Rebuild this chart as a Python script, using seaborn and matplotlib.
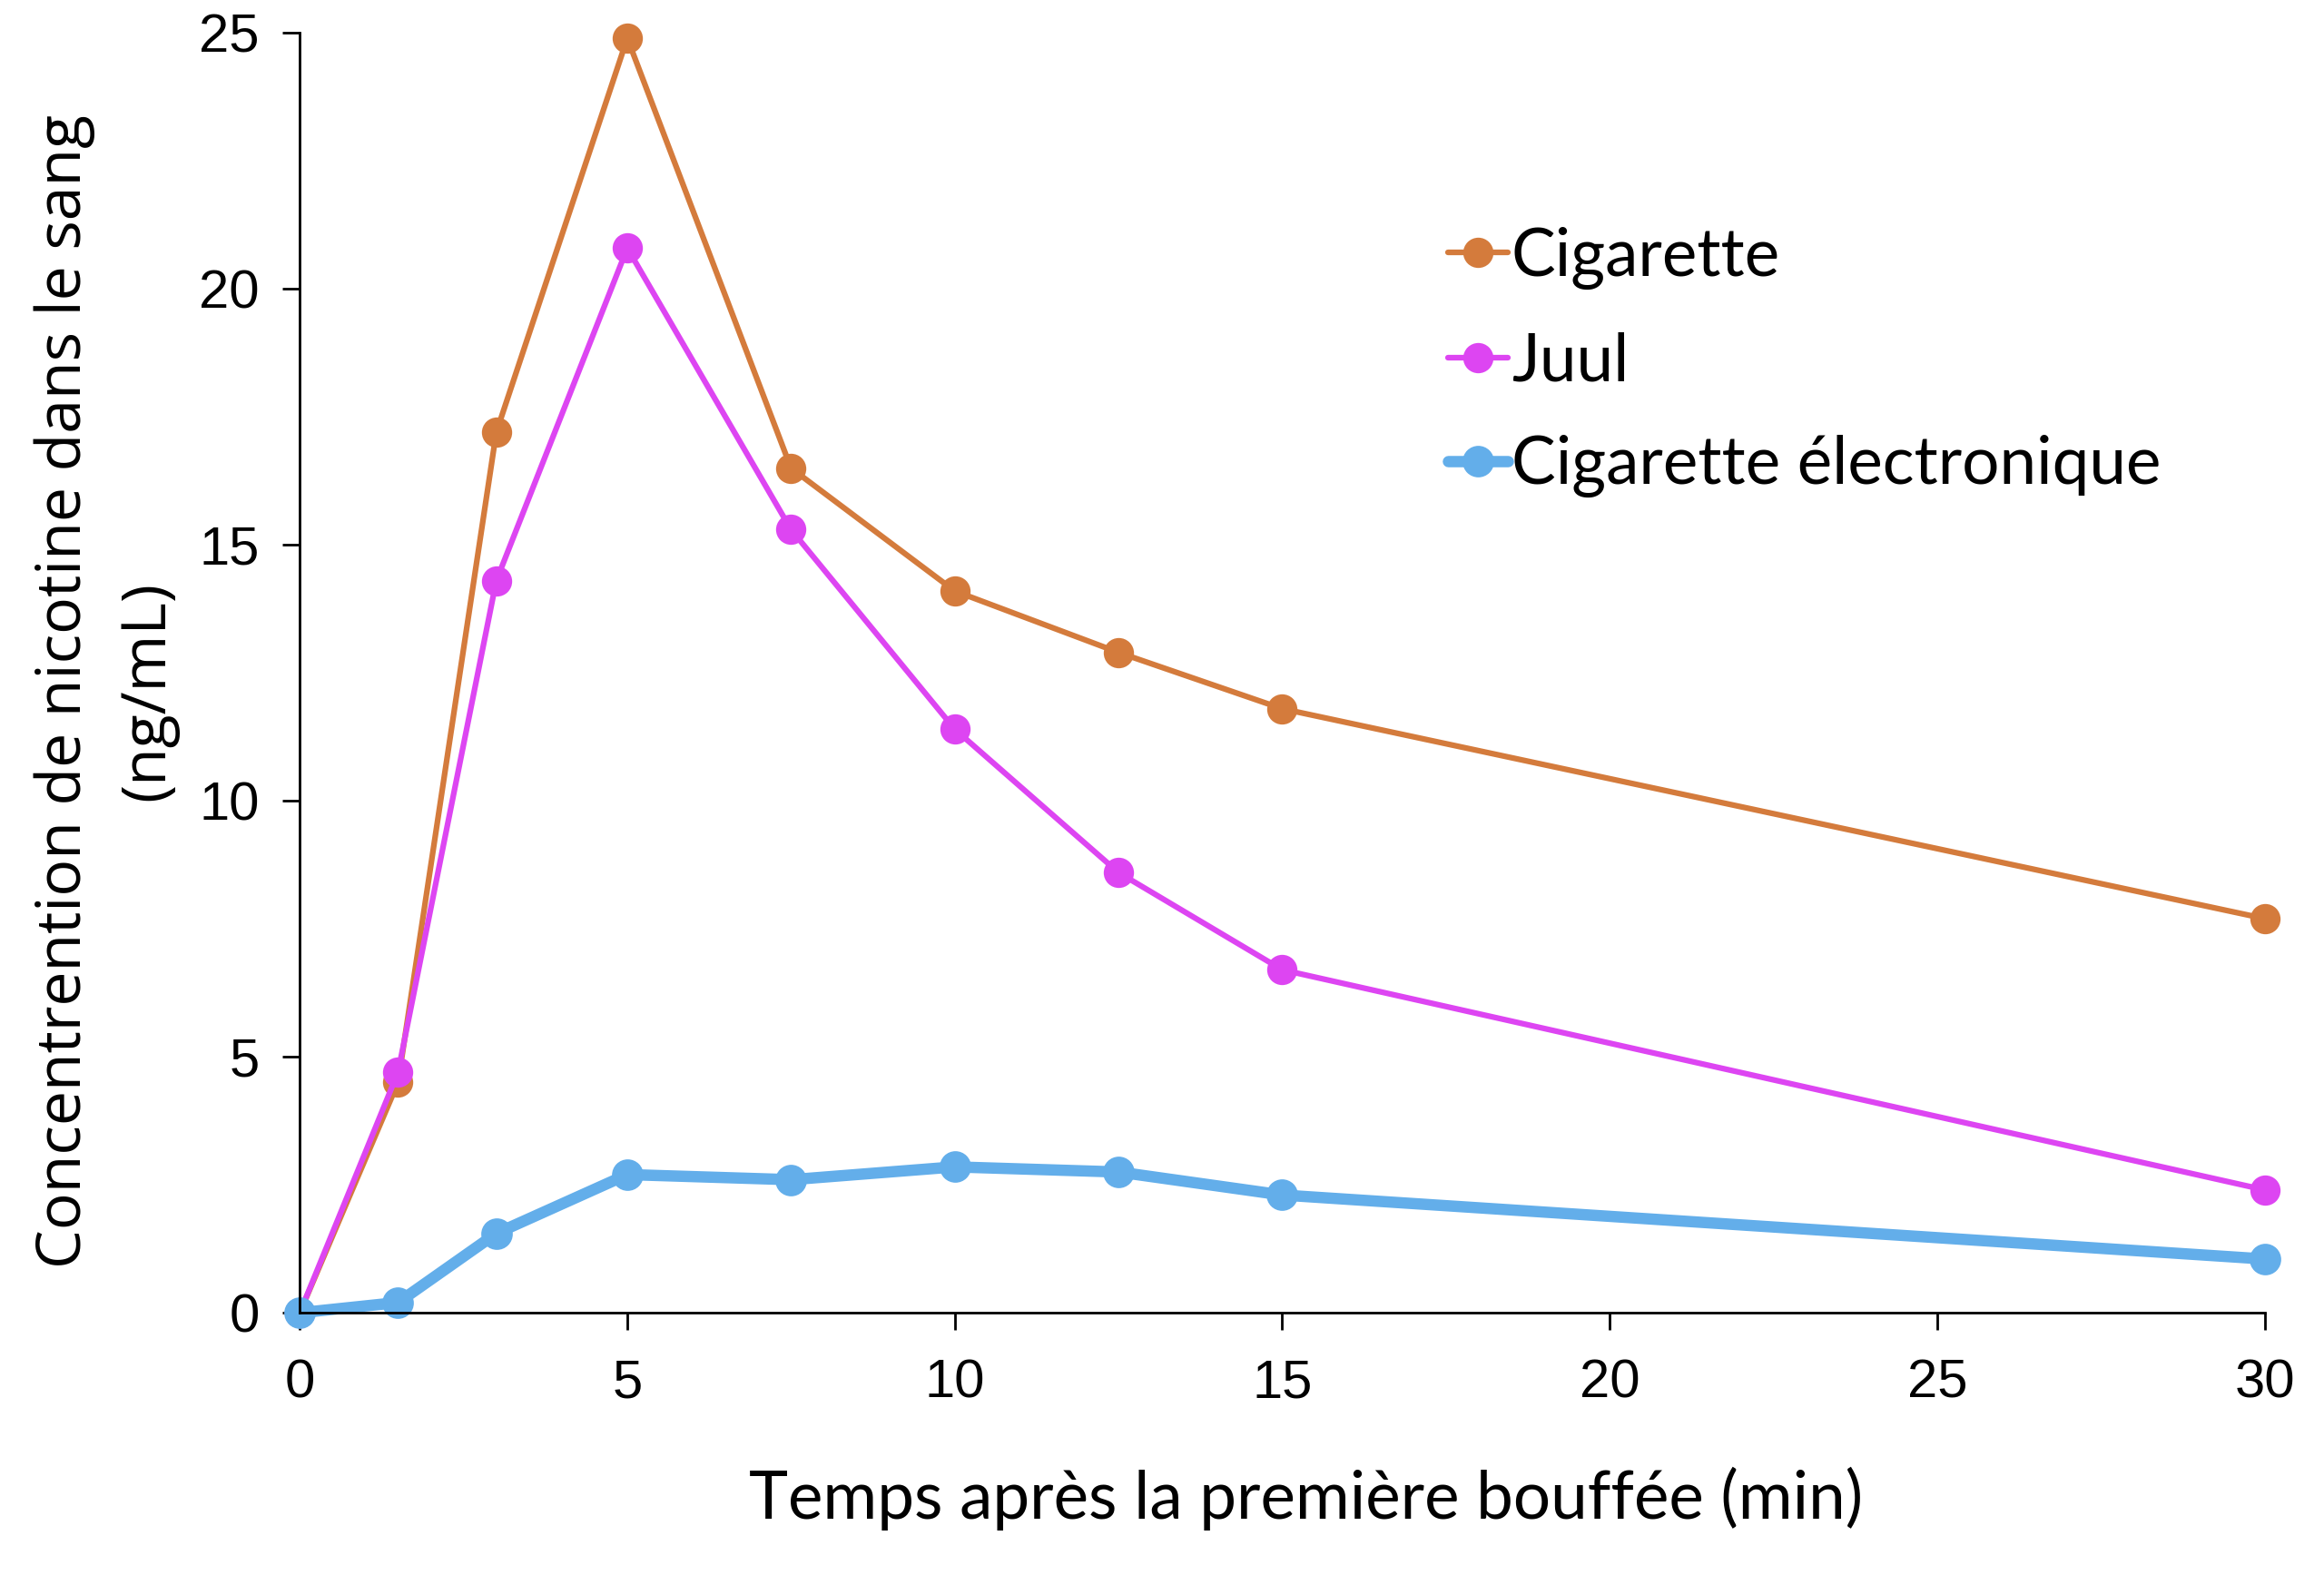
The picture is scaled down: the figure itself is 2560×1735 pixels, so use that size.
import numpy as np
import pandas as pd
import matplotlib
matplotlib.use("Agg")
import matplotlib.pyplot as plt
import seaborn as sns

# time points (min) and nicotine concentration (ng/mL)
temps = [0, 1.5, 3, 5, 7.5, 10, 12.5, 15, 30]
cigarette = [0, 4.5, 17.2, 24.9, 16.5, 14.1, 12.9, 11.8, 7.7]
juul = [0, 4.7, 14.3, 20.8, 15.3, 11.4, 8.6, 6.7, 2.4]
ecig = [0, 0.2, 1.55, 2.7, 2.6, 2.85, 2.75, 2.3, 1.05]

series_names = ["Cigarette", "Juul", "Cigarette électronique"]
series_values = [cigarette, juul, ecig]
colors = ["#D47B3C", "#DD45F2", "#63AEEA"]
widths = [4.5, 4.5, 9]
msizes = [24, 24, 25]

x_ticks = [0, 5, 10, 15, 20, 25, 30]
y_ticks = [0, 5, 10, 15, 20, 25]

df = pd.DataFrame({
    "temps": temps * 3,
    "conc": cigarette + juul + ecig,
    "serie": sum([[n] * len(temps) for n in series_names], []),
})

sns.set_style("white")
plt.rcParams["font.family"] = ["Liberation Sans", "DejaVu Sans"]

fig = plt.figure(figsize=(25.6, 17.35), dpi=100)
ax = fig.add_axes([0.129, 0.1665, 0.8455, 0.8125])

for name, col, lw, ms in zip(series_names, colors, widths, msizes):
    sub = df[df["serie"] == name]
    sns.lineplot(data=sub, x="temps", y="conc", ax=ax, color=col, linewidth=lw,
                 marker="o", markersize=ms, markeredgewidth=0, label=name, clip_on=False)

ax.set_xlim(0, 30)
ax.set_ylim(0, 25)
ax.set_xticks(x_ticks)
ax.set_yticks(y_ticks)
ax.tick_params(axis="both", direction="out", length=14, width=2, labelsize=43,
               colors="black", left=True, bottom=True)
ax.tick_params(axis="x", pad=22)
ax.tick_params(axis="y", pad=18)
for s in ["top", "right"]:
    ax.spines[s].set_visible(False)
for s in ["left", "bottom"]:
    ax.spines[s].set_linewidth(2)
    ax.spines[s].set_color("black")

ax.set_xlabel("Temps après la première bouffée (min)", family=["Lato", "DejaVu Sans"],
              fontsize=52.5, color="black")
ax.xaxis.set_label_coords(0.512, -0.120)
ax.set_ylabel("Concentrention de nicotine dans le sang\n(ng/mL)", family=["Open Sans", "DejaVu Sans"],
              fontsize=49, linespacing=1.45, color="black")
ax.yaxis.set_label_coords(-0.062, 0.486)

leg = ax.legend(loc="upper left", bbox_to_anchor=(0.609, 0.877), bbox_transform=fig.transFigure,
                frameon=False, prop={"family": ["Lato", "DejaVu Sans"], "size": 52.5},
                handlelength=0.9, handletextpad=0.05, labelspacing=0.64, borderpad=0)
for t in leg.get_texts():
    t.set_color("black")

fig.savefig("out.png", dpi=100)
